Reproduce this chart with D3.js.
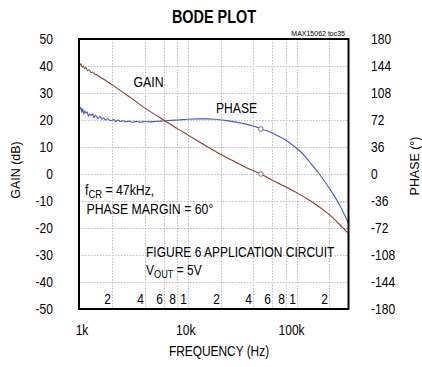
<!DOCTYPE html>
<html>
<head>
<meta charset="utf-8">
<script src="https://cdn.jsdelivr.net/npm/d3@7"></script>
<style>
  body { margin: 0; background: #fff; }
  svg { display: block; }
  text { font-family: "Liberation Sans", Arial, sans-serif; fill: #000; }
</style>
</head>
<body>
<svg id="chart" width="422" height="367"></svg>
<script>
// Loop gain magnitude (dB) versus frequency (Hz)
const gainFreq = [1000, 1020, 1040, 1070, 1100, 1130, 1160, 1200, 1240, 1290, 1340, 1400, 1470, 1550, 1650,
  1800, 2000, 2500, 3000, 4000, 5000, 6000, 7000, 8000, 10000, 13000, 17000, 22000, 28000, 35000,
  47000, 60000, 75000, 90000, 100000, 125000, 150000, 176000, 210000, 250000, 300000];
const gainDb = [41.2, 40.2, 40.8, 39.6, 40, 39, 39.4, 38.3, 38.6, 37.6, 37.8, 36.9, 36.7, 36, 35.4,
  34.4, 33.1, 30.4, 28.2, 24.5, 22, 20, 18.3, 16.8, 14.5, 11.7, 8.9, 6.4, 4.3, 2.2,
  0, -2.3, -4.3, -5.9, -6.9, -9.2, -11.3, -13.3, -15.8, -18.8, -22];

// Loop phase (degrees) versus frequency (Hz)
const phaseFreq = [1000, 1020, 1040, 1060, 1080, 1110, 1130, 1160, 1190, 1220, 1250, 1290, 1330, 1370, 1410,
  1460, 1510, 1560, 1620, 1680, 1750, 1820, 1900, 1990, 2080, 2180, 2290, 2400, 2550, 2700,
  2900, 3100, 3400, 3700, 4000, 4500, 5000, 5600, 6300, 7000, 8000, 9000, 10000, 12000, 15000,
  18000, 22000, 27000, 33000, 40000, 47000, 55000, 65000, 80000, 95000, 112000, 130000, 160000, 200000,
  250000, 300000];
const phaseDeg = [91, 86, 89, 82, 87, 80, 84, 81, 83, 77, 80, 78, 80, 75, 78,
  76, 74, 77, 73, 75, 72, 74, 72, 71, 73, 70, 72, 70, 71, 69.5,
  70.5, 69, 70, 69, 70, 69.5, 70, 70.5, 71, 71.5, 72, 72.5, 73, 73.5, 73.5,
  73, 71.5, 69.5, 67, 64, 60, 57, 52, 45, 37, 28, 17, 1, -19,
  -42, -66];

// Crossover point annotated on both curves
const crossoverHz = 47000;
const crossoverDb = 0;
const phaseMarginDeg = 60;

// Axis ticks and labels
const gainTicks = [50, 40, 30, 20, 10, 0, -10, -20, -30, -40, -50];
const phaseTicks = [180, 144, 108, 72, 36, 0, -36, -72, -108, -144, -180];
const decadeTicks = [1000, 10000, 100000];
const decadeLabels = ["1k", "10k", "100k"];
const gridFreqs = [2000, 4000, 6000, 8000, 10000, 20000, 40000, 60000, 80000, 100000, 200000];
const gridLabels = ["2", "4", "6", "8", "1", "2", "4", "6", "8", "1", "2"];

const svg = d3.select("#chart");
const plotL = 79, plotR = 348.5, plotT = 39, plotB = 309;

const x = d3.scaleLog().domain([1000, 300000]).range([plotL, plotR]);
const yGain = d3.scaleLinear().domain([-50, 50]).range([plotB, plotT]);
const yPhase = d3.scaleLinear().domain([-180, 180]).range([plotB, plotT]);

// Text with a narrow face: scale horizontally around the anchor point
function label(g, px, py, str, size, sx, anchor, weight) {
  return g.append("text")
    .attr("transform", `translate(${px},${py}) scale(${sx},1)`)
    .attr("text-anchor", anchor || "start")
    .style("font-size", size + "px")
    .style("font-weight", weight || "normal")
    .text(str);
}

// Grid
const grid = svg.append("g").attr("stroke", "#bdbdbd").attr("stroke-width", 1)
  .attr("stroke-dasharray", "1.5,1.5");
grid.selectAll("line.h").data(gainTicks.filter(t => t > -50 && t < 50)).enter().append("line")
  .attr("x1", plotL).attr("x2", plotR)
  .attr("y1", d => Math.round(yGain(d)) + 0.5).attr("y2", d => Math.round(yGain(d)) + 0.5);
grid.selectAll("line.v").data(gridFreqs).enter().append("line")
  .attr("y1", plotT).attr("y2", plotB)
  .attr("x1", d => Math.round(x(d)) + 0.5).attr("x2", d => Math.round(x(d)) + 0.5);

// Curves
const gainLine = d3.line().x((d, i) => x(gainFreq[i])).y(d => yGain(d)).curve(d3.curveMonotoneX);
const phaseLine = d3.line().x((d, i) => x(phaseFreq[i])).y(d => yPhase(d)).curve(d3.curveMonotoneX);

svg.append("path").datum(phaseDeg).attr("d", phaseLine)
  .attr("fill", "none").attr("stroke", "#4656d8").attr("stroke-width", 1.1);
svg.append("path").datum(gainDb).attr("d", gainLine)
  .attr("fill", "none").attr("stroke", "#8e3b2c").attr("stroke-width", 1.1);

// Crossover markers
svg.append("circle").attr("cx", x(crossoverHz)).attr("cy", yGain(crossoverDb)).attr("r", 2.3)
  .attr("fill", "#fff").attr("stroke", "#777").attr("stroke-width", 1);
svg.append("circle").attr("cx", x(crossoverHz)).attr("cy", yPhase(phaseMarginDeg)).attr("r", 2.3)
  .attr("fill", "#fff").attr("stroke", "#777").attr("stroke-width", 1);

// Frame
svg.append("rect").attr("x", plotL).attr("y", plotT).attr("width", plotR - plotL).attr("height", plotB - plotT)
  .attr("fill", "none").attr("stroke", "#000").attr("stroke-width", 2);

// Axis labels
const ax = svg.append("g");
gainTicks.forEach(t => label(ax, 53, yGain(t) + 5, String(t), 14, 0.86, "end"));
phaseTicks.forEach(t => label(ax, 371, yPhase(t) + 5, String(t), 14, 0.86, "start"));
decadeTicks.forEach((f, i) => label(ax, x(f) + [3, -2, -5][i], 335, decadeLabels[i], 14, 0.86, "middle"));
gridFreqs.forEach((f, i) => label(ax, Math.round(x(f)) - 1, 304, gridLabels[i], 14, 0.86, "end"));

label(ax, 214, 23, "BODE PLOT", 18.5, 0.78, "middle", "bold");
label(ax, 345, 35.5, "MAX15062 toc35", 7, 1, "end");
label(ax, 219, 356, "FREQUENCY (Hz)", 14, 0.85, "middle");

ax.append("text").attr("transform", "translate(20,170) rotate(-90) scale(0.92,1)")
  .attr("text-anchor", "middle").style("font-size", "13.5px").text("GAIN (dB)");
ax.append("text").attr("transform", "translate(419,166) rotate(-90) scale(0.92,1)")
  .attr("text-anchor", "middle").style("font-size", "13.5px").text("PHASE (°)");

// Annotations
label(ax, 133.5, 86.5, "GAIN", 15, 0.82);
label(ax, 216, 113.3, "PHASE", 15, 0.81);

const fcr = label(ax, 85, 195, "", 15, 0.82);
fcr.append("tspan").text("f");
fcr.append("tspan").attr("dy", 3).style("font-size", "11.5px").text("CR");
fcr.append("tspan").attr("dy", -3).text(" = 47kHz,");
label(ax, 86.5, 214, "PHASE MARGIN = 60°", 15, 0.82);

label(ax, 146, 257, "FIGURE 6 APPLICATION CIRCUIT", 15, 0.8);
const vout = label(ax, 146, 275, "", 15, 0.8);
vout.append("tspan").text("V");
vout.append("tspan").attr("dy", 3).style("font-size", "11.5px").text("OUT");
vout.append("tspan").attr("dy", -3).text(" = 5V");
</script>
</body>
</html>
